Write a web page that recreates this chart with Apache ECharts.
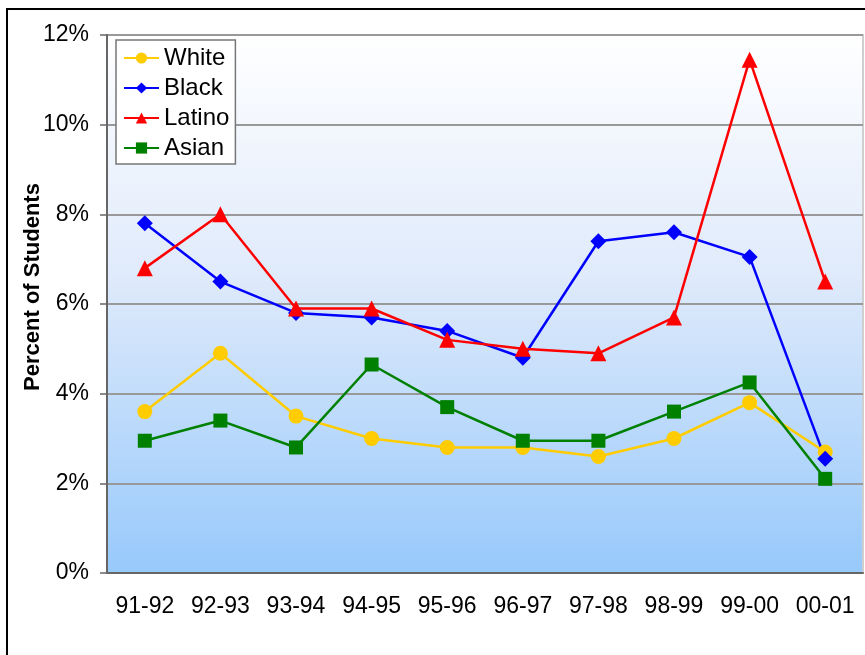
<!DOCTYPE html>
<html>
<head>
<meta charset="utf-8">
<script src="https://cdn.jsdelivr.net/npm/echarts@6/dist/echarts.min.js"></script>
<style>
  html, body { margin: 0; padding: 0; background: #fff; }
  #chart { width: 865px; height: 655px; }
</style>
</head>
<body>
<div id="chart"></div>
<script>
// school years on the x axis
const years = ['91-92', '92-93', '93-94', '94-95', '95-96', '96-97', '97-98', '98-99', '99-00', '00-01']

// percent of students
const white  = [3.6, 4.9, 3.5, 3.0, 2.8, 2.8, 2.6, 3.0, 3.8, 2.7]
const black  = [7.8, 6.5, 5.8, 5.7, 5.4, 4.8, 7.4, 7.6, 7.05, 2.55]
const latino = [6.8, 8.0, 5.9, 5.9, 5.2, 5.0, 4.9, 5.7, 11.45, 6.5]
const asian  = [2.95, 3.4, 2.8, 4.65, 3.7, 2.95, 2.95, 3.6, 4.25, 2.1]

const font = 'Liberation Sans, Arial, sans-serif'

function line(name, data, color, symbol, size) {
  return {
    name, type: 'line', data, symbol, symbolSize: size,
    lineStyle: { color, width: 2.5 },
    itemStyle: { color },
    z: 3
  }
}

let myChart = echarts.init(document.getElementById('chart'))

myChart.setOption({
  animation: false,
  backgroundColor: '#fff',
  textStyle: { fontFamily: font },
  graphic: [{
    type: 'rect',
    shape: { x: 7, y: 9, width: 900, height: 700 },
    style: { fill: 'none', stroke: '#000', lineWidth: 2 },
    silent: true
  }, {
    type: 'text',
    rotation: Math.PI / 2,
    style: {
      text: 'Percent of Students', font: 'bold 22px ' + font, fill: '#000',
      align: 'center', verticalAlign: 'middle'
    },
    x: 33, y: 287
  }],
  grid: {
    left: 107, right: 2, top: 35, bottom: 82,
    show: true,
    borderColor: '#cfcfcf', borderWidth: 2,
    backgroundColor: new echarts.graphic.LinearGradient(0, 0, 0, 1, [
      { offset: 0, color: '#ffffff' },
      { offset: 0.45, color: '#dfeafb' },
      { offset: 1, color: '#97c9fb' }
    ])
  },
  legend: {
    orient: 'vertical',
    left: 116, top: 40,
    padding: [6, 6, 4, 7],
    backgroundColor: '#fff',
    borderColor: '#777', borderWidth: 1.5,
    itemWidth: 35, itemHeight: 14, itemGap: 6,
    textStyle: { fontSize: 24, lineHeight: 24, color: '#000', fontFamily: font },
    data: ['White', 'Black', 'Latino', 'Asian']
  },
  xAxis: {
    type: 'category',
    data: years,
    boundaryGap: true,
    axisLine: { lineStyle: { color: '#666', width: 2 } },
    axisTick: { length: 8, lineStyle: { color: '#666', width: 1.5 } },
    axisLabel: { color: '#000', fontSize: 23, margin: 22, interval: 0, hideOverlap: false, fontFamily: font }
  },
  yAxis: {
    type: 'value',
    min: 0, max: 12, interval: 2,
    axisLine: { show: true, lineStyle: { color: '#666', width: 2 } },
    axisTick: { show: true, length: 7, lineStyle: { color: '#666', width: 1.5 } },
    axisLabel: { color: '#000', fontSize: 23, margin: 18, formatter: '{value}%', fontFamily: font },
    splitLine: { lineStyle: { color: '#999', width: 2 } }
  },
  series: [
    line('White', white, '#FFCC00', 'circle', 15),
    line('Black', black, '#0000FF', 'diamond', 16),
    line('Latino', latino, '#FF0000', 'triangle', 16),
    line('Asian', asian, '#008000', 'rect', 14)
  ]
})
</script>
</body>
</html>
